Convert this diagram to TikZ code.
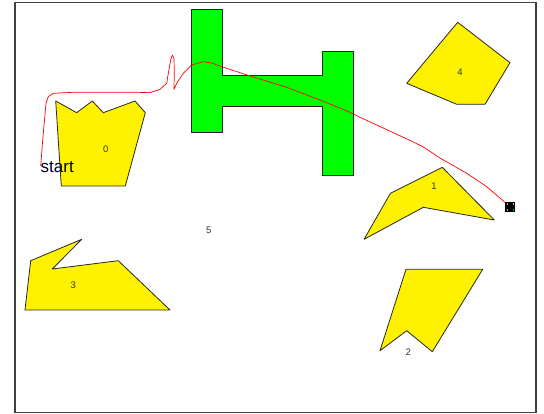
\documentclass[tikz,border=0pt]{standalone}
\usepackage{fontspec}
\setmainfont{Liberation Sans}
\begin{document}
\begin{tikzpicture}[x=1pt,y=-1pt,
  obst/.style={fill=yellow, draw=black!85, line width=0.8pt, line join=round},
  wall/.style={fill=green, draw=black!85, line width=0.9pt},
  lbl/.style={font=\fontsize{9.5}{9.5}\selectfont, text=black!80, inner sep=0pt},
  route/.style={draw=red, line width=0.7pt, line join=round}]
\useasboundingbox (0,0) rectangle (544,414);
\fill[white] (0,0) rectangle (544,414);
\draw[draw=black!75, line width=1.6pt] (14.8,2.6) rectangle (536.2,412.6);
% H-shaped wall
\draw[wall] (191.7,9.3) -- (222.7,9.3) -- (222.7,75.7) -- (322.3,75.7) -- (322.3,51.7) -- (353,51.7)
  -- (353,175) -- (322.3,175) -- (322.3,106.7) -- (222.7,106.7) -- (222.7,132.7) -- (191.7,132.7) -- cycle;
% obstacles
\draw[obst] (55.7,101) -- (76.7,112.7) -- (92.3,101) -- (103.3,112.7) -- (135,101) -- (145.3,112.7)
  -- (125.3,186) -- (61.3,186) -- cycle;
\draw[obst] (457.7,22.3) -- (510,62.7) -- (485,104.3) -- (456.7,104.3) -- (406.7,83.3) -- cycle;
\draw[obst] (442.3,167.3) -- (494.3,220) -- (423.3,207.3) -- (364.1,239.3) -- (390.4,193.3) -- cycle;
\draw[obst] (406,269.3) -- (482.7,269.3) -- (432.3,351.7) -- (406.7,330.7) -- (380,350.7) -- cycle;
\draw[obst] (81.7,239.3) -- (52.3,269) -- (118.3,260.7) -- (170,310) -- (25,310) -- (30.7,260.7) -- cycle;
% labels
\node[lbl] (l0) at (105.7,149) {0};
\node[lbl] (l1) at (434,186) {1};
\node[lbl] (l2) at (408.3,352) {2};
\node[lbl] (l3) at (73.3,285) {3};
\node[lbl] (l4) at (460,72.7) {4};
\node[lbl] (l5) at (208.7,230) {5};
% path
\draw[route] (40.7,166) -- (42.7,140) -- (46,103.3) -- (48.3,96.7) -- (53.3,93.3) -- (73.3,92.3)
  -- (136.7,92.3) -- (150,92.7) -- (160,89.3) -- (166.7,83.3) -- (168.3,73.3) -- (170.7,60)
  -- (172.3,55) -- (174,58.3) -- (174.3,73.3) -- (174,89.3) -- (176.7,83.3) -- (183.3,73.3)
  -- (191.7,65) -- (203.3,61.7) -- (213.3,63.3) -- (216.7,65) -- (250,76) -- (286.7,87.3)
  -- (320,100) -- (347,111) -- (360,117.3) -- (409.2,140) -- (423,146.7) -- (440.4,158.3)
  -- (466.7,173.3) -- (486.7,186.7) -- (505.3,202.7);
\node[font=\fontsize{17}{17}\selectfont, text=black!75!blue!60!black, inner sep=0pt, anchor=base west] (start) at (40.5,172.7) {start};
% goal marker
\node[fill=black, minimum size=10pt, inner sep=0pt] (goal) at (510.3,207) {};
\fill[white] (507.3,204) circle (0.8pt) (513.3,204) circle (0.8pt) (507.3,210) circle (0.8pt);
\fill[green] (513.3,210) circle (0.8pt);
\end{tikzpicture}
\end{document}
